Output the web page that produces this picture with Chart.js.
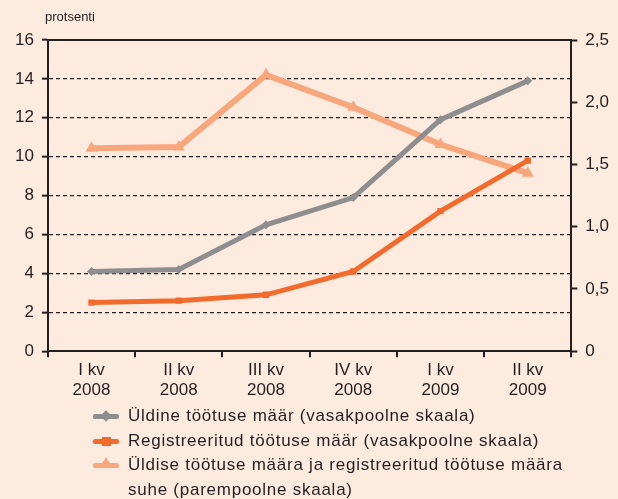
<!DOCTYPE html>
<html>
<head>
<meta charset="utf-8">
<script src="https://cdn.jsdelivr.net/npm/chart.js@4/dist/chart.umd.min.js"></script>
<style>
html, body { margin: 0; padding: 0; background: #fdebe0; }
#wrap { position: relative; width: 618px; height: 499px; font-family: "Liberation Sans", Arial, sans-serif; color: #231f20; }
#unit { position: absolute; left: 45px; top: 9px; font-size: 13px; }
#legend { position: absolute; left: 93px; top: 404px; font-size: 17px; line-height: 24.5px; letter-spacing: 0.75px; }
.row { display: flex; align-items: flex-start; }
.key { position: relative; width: 26px; height: 24px; margin-right: 9px; flex: none; }
.key .ln { position: absolute; left: 0; right: 0; top: 10px; height: 5px; border-radius: 2px; }
.key .mk { position: absolute; }
</style>
</head>
<body>
<div id="wrap">
  <canvas id="chart" width="618" height="499"></canvas>
  <div id="unit">protsenti</div>
  <div id="legend"></div>
</div>
<script>
// --- andmed ---
const categories = [['I kv', '2008'], ['II kv', '2008'], ['III kv', '2008'], ['IV kv', '2008'], ['I kv', '2009'], ['II kv', '2009']];
const uldine = [4.1, 4.2, 6.5, 7.9, 11.9, 13.9];
const registreeritud = [2.5, 2.6, 2.9, 4.1, 7.2, 9.8];
const suhe = [1.63, 1.64, 2.22, 1.96, 1.66, 1.43];
const seriesNames = [
    'Üldine töötuse määr (vasakpoolne skaala)',
    'Registreeritud töötuse määr (vasakpoolne skaala)',
    'Üldise töötuse määra ja registreeritud töötuse määra suhe (parempoolne skaala)'
];
const colors = ['#8e8e8e', '#f26b2c', '#f8a77d'];
const ink = '#231f20';

// --- legend (HTML) ---
const markers = [
    '<div class="mk" style="left:9px;top:8px;width:8px;height:8px;transform:rotate(45deg);background:' + colors[0] + '"></div>',
    '<div class="mk" style="left:9px;top:8px;width:9px;height:9px;background:' + colors[1] + '"></div>',
    '<div class="mk" style="left:7px;top:4px;width:0;height:0;border-left:6px solid transparent;border-right:6px solid transparent;border-bottom:10px solid ' + colors[2] + '"></div>'
];
const legend = document.getElementById('legend');
seriesNames.forEach((name, i) => {
    const row = document.createElement('div');
    row.className = 'row';
    row.innerHTML = '<div class="key"><div class="ln" style="background:' + colors[i] + '"></div>' + markers[i] +
        '</div><div style="width:' + (i === 2 ? 445 : 480) + 'px">' + name + '</div>';
    legend.appendChild(row);
});

// --- graafik ---
Chart.defaults.font.family = '"Liberation Sans", Arial, sans-serif';
Chart.defaults.color = ink;

const ctx = document.getElementById('chart').getContext('2d');
new Chart(ctx, {
    type: 'line',
    data: {
        labels: categories,
        datasets: [
            {
                label: seriesNames[0], data: uldine, yAxisID: 'y',
                borderColor: colors[0], backgroundColor: colors[0], borderWidth: 5,
                pointStyle: 'rectRot', pointRadius: 4.5, pointBorderWidth: 0
            },
            {
                label: seriesNames[1], data: registreeritud, yAxisID: 'y',
                borderColor: colors[1], backgroundColor: colors[1], borderWidth: 5,
                pointStyle: 'rect', pointRadius: 4.5, pointBorderWidth: 0
            },
            {
                label: seriesNames[2], data: suhe, yAxisID: 'y1',
                borderColor: colors[2], backgroundColor: colors[2], borderWidth: 6,
                pointStyle: 'triangle', pointRadius: 7, pointBorderWidth: 0
            }
        ]
    },
    options: {
        responsive: false,
        animation: false,
        layout: { padding: { top: 32, left: 7, right: 1, bottom: 95 } },
        plugins: { legend: { display: false }, tooltip: { enabled: false } },
        scales: {
            x: {
                offset: true,
                grid: { offset: true, drawOnChartArea: false, color: ink, tickLength: 6, lineWidth: 2 },
                border: { color: ink, width: 2 },
                ticks: { font: { size: 17 }, padding: 3, maxRotation: 0, autoSkip: false }
            },
            xTop: {
                type: 'category',
                position: 'top',
                grid: { display: false },
                ticks: { display: false },
                border: { color: ink, width: 2 }
            },
            y: {
                position: 'left',
                min: 0, max: 16,
                ticks: { stepSize: 2, font: { size: 17 }, padding: 8 },
                grid: {
                    color: c => (c.tick.value === 0 || c.tick.value === 16) ? 'rgba(0,0,0,0)' : ink,
                    tickColor: ink, lineWidth: 1.3, tickLength: 6, tickWidth: 2
                },
                border: { color: ink, width: 2, dash: [4, 3] }
            },
            y1: {
                position: 'right',
                min: 0, max: 2.5,
                ticks: {
                    stepSize: 0.5, font: { size: 17 }, padding: 8,
                    callback: v => v === 0 ? '0' : v.toFixed(1).replace('.', ',')
                },
                grid: { drawOnChartArea: false, color: ink, tickLength: 6, tickWidth: 2 },
                border: { color: ink, width: 2 }
            }
        }
    }
});
</script>
</body>
</html>
